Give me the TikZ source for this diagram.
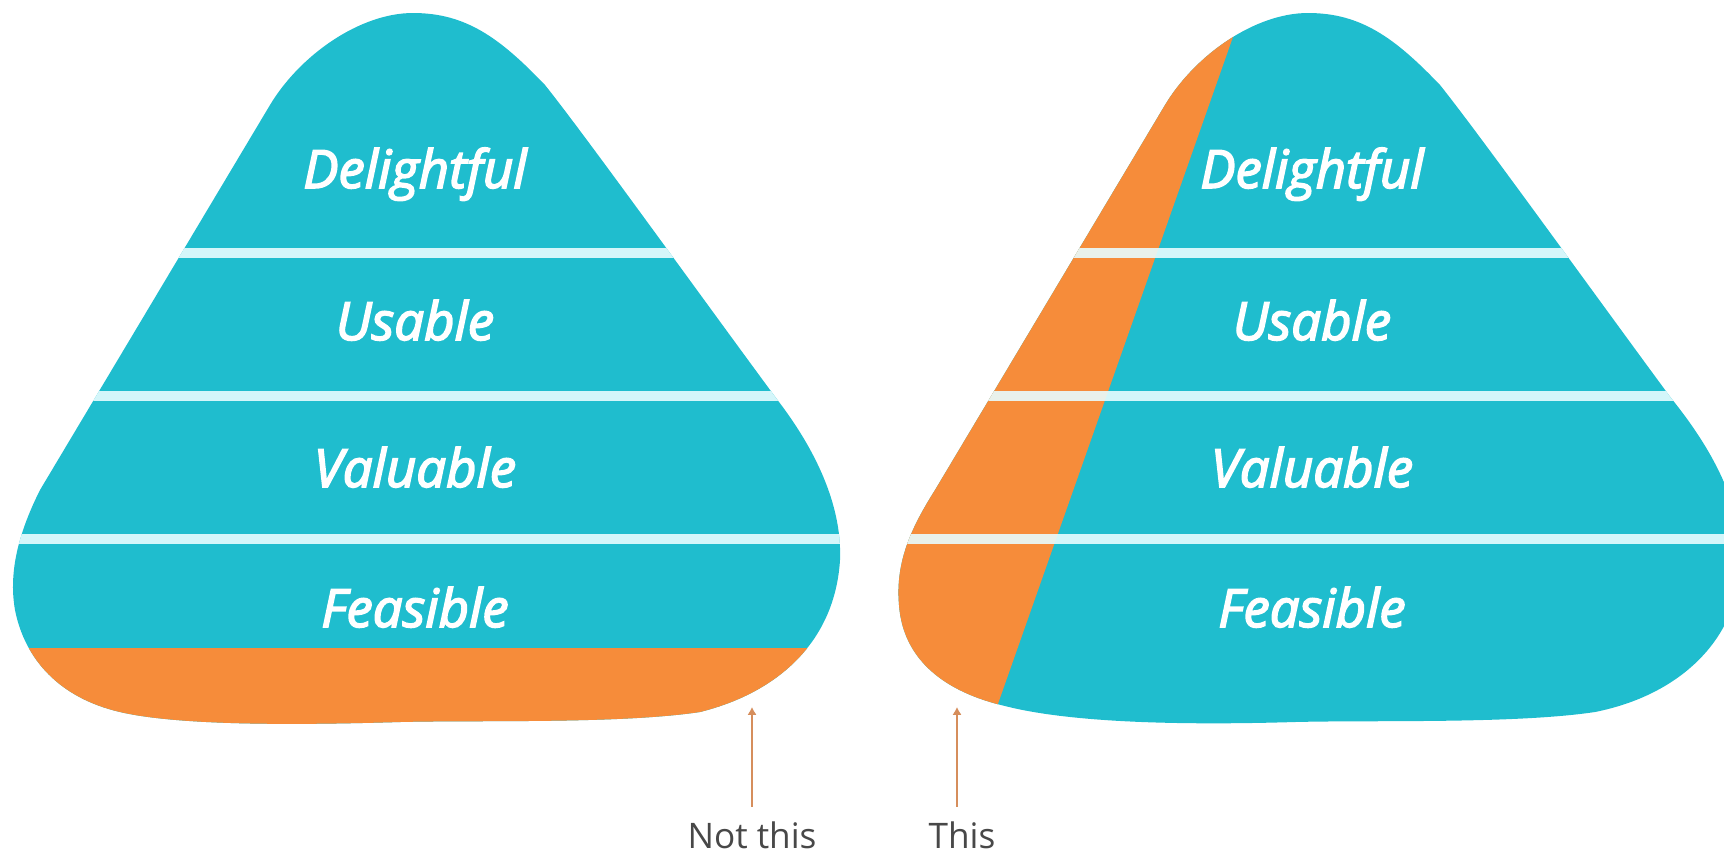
\documentclass[tikz,border=0pt]{standalone}
\usepackage{fontspec}
\setmainfont{Open Sans}
\newfontfamily\bandfont{Open Sans}[ItalicFeatures={FakeBold=3}]
\usetikzlibrary{arrows.meta, positioning}
\definecolor{blobteal}{RGB}{31,189,206}
\definecolor{bloborange}{RGB}{246,140,58}
\definecolor{dividercol}{RGB}{232,253,255}
\definecolor{pointercol}{RGB}{214,142,92}
\definecolor{notecol}{RGB}{72,72,72}
\tikzstyle{band} = [anchor=base, font=\bandfont\itshape\fontsize{15}{18}\selectfont, text=white]
\tikzstyle{divider} = [draw=dividercol, opacity=0.9, line width=2.8pt]
\tikzstyle{note} = [anchor=base, inner sep=4pt, font=\fontsize{10}{12}\selectfont, text=notecol]
\tikzstyle{pointer} = [draw=pointercol, line width=0.7pt, -{Latex[length=2.2pt,width=2.6pt]}]

\begin{document}
\begin{tikzpicture}[x=0.01cm, y=-0.01cm]
\useasboundingbox (0,0) rectangle (1724,857);
\clip (0,0) rectangle (1724,857);

% Left blob: orange strip at the bottom
\begin{scope}
\clip (270,105) .. controls (300,55) and (360,13) .. (413,13)
  .. controls (466,13) and (500,38) .. (545,85)
  .. controls (585,135) and (700,295) .. (776,398)
  .. controls (820,455) and (842,510) .. (840,560)
  .. controls (835,640) and (780,692) .. (700,712)
  .. controls (620,724) and (480,720) .. (400,722)
  .. controls (300,725) and (180,726) .. (120,712)
  .. controls (60,698) and (25,660) .. (15,610)
  .. controls (8,570) and (20,530) .. (40,490) -- cycle;
\fill [blobteal] (0,0) rectangle (900,857);
\fill [bloborange] (0,648) rectangle (900,857);
\draw [divider] (0,253) -- (900,253);
\draw [divider] (0,396) -- (900,396);
\draw [divider] (0,539) -- (900,539);
\end{scope}

% Right blob: orange strip along the left side
\begin{scope}[shift={(895,0)}]
\clip (270,105) .. controls (300,55) and (360,13) .. (413,13)
  .. controls (466,13) and (500,38) .. (545,85)
  .. controls (585,135) and (700,295) .. (776,398)
  .. controls (822,455) and (848,510) .. (846,565)
  .. controls (842,640) and (785,695) .. (700,712)
  .. controls (620,724) and (480,720) .. (400,722)
  .. controls (300,725) and (180,724) .. (110,706)
  .. controls (50,692) and (8,660) .. (4,605)
  .. controls (0,560) and (18,525) .. (40,490) -- cycle;
\fill [blobteal] (0,0) rectangle (900,857);
\fill [bloborange] (-50,0) -- (351,0) -- (49,857) -- (-50,857) -- cycle;
\draw [divider] (0,253) -- (900,253);
\draw [divider] (0,396) -- (900,396);
\draw [divider] (0,539) -- (900,539);
\end{scope}

% Left labels
\node (delightL) [band] at (415,188) {Delightful};
\node (usableL) [band] at (415,340) {Usable};
\node (valuableL) [band] at (415,487) {Valuable};
\node (feasibleL) [band] at (415,627) {Feasible};
% Right labels
\node (delightR) [band] at (1312,188) {Delightful};
\node (usableR) [band] at (1312,340) {Usable};
\node (valuableR) [band] at (1312,487) {Valuable};
\node (feasibleR) [band] at (1312,627) {Feasible};

% Pointers
\node (notthis) [note] at (752,848) {Not this};
\node (this) [note] at (962,848) {This};
\coordinate (nottip) at (752,707);
\coordinate (thistip) at (957,707);
\draw [pointer] (notthis.north -| nottip) -- (nottip);
\draw [pointer] (this.north -| thistip) -- (thistip);
\end{tikzpicture}
\end{document}
